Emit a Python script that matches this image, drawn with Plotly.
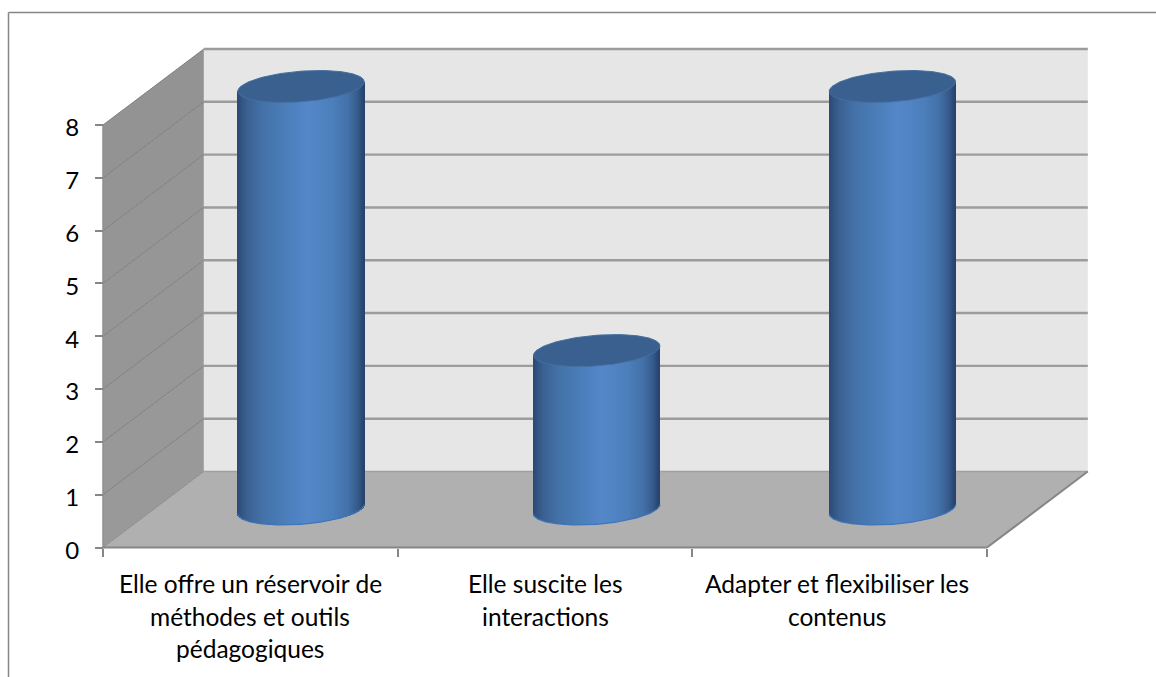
import numpy as np
import plotly.graph_objects as go

# ---- data ----
categories = ["Elle offre un réservoir de méthodes et outils pédagogiques",
              "Elle suscite les interactions",
              "Adapter et flexibiliser les contenus"]
label_lines = [["Elle offre un réservoir de", "méthodes et outils", "pédagogiques"],
               ["Elle suscite les", "interactions"],
               ["Adapter et flexibiliser les", "contenus"]]
values = [8, 3, 8]
y_ticks = [0, 1, 2, 3, 4, 5, 6, 7, 8]

# ---- geometry (pixels of the 1156x677 page) ----
W, H = 1156, 677
X0_PX, X3_PX = 103.0, 987.0      # x axis ends
Y0_PX, Y8_PX = 547.5, 125.0      # y axis 0 and 8
PX_X = (X3_PX - X0_PX) / len(categories)
PX_Y = (Y0_PX - Y8_PX) / max(y_ticks)
x_left = -0.5 - X0_PX / PX_X
x_right = x_left + W / PX_X
y_bottom = -(H - Y0_PX) / PX_Y
y_top = y_bottom + H / PX_Y
DX = 100.8 / PX_X                # depth offset of the back wall, x
DY = 76.0 / PX_Y                 # depth offset of the back wall, y
XL, XR = -0.5, len(categories) - 0.5
YMAX = max(y_ticks)

RAD_X = 63.2 / PX_X              # cylinder half width
RAD_Y = 15.3 / PX_Y              # cylinder half height of the ellipse
TILT = 4.7 / PX_Y                # ellipse tilt
BASE = 38.5 / PX_Y               # cylinder base centre above y=0
SHIFT = DX / 2 + 0.3 / PX_X      # cylinder centre shift towards the back
PITCH = 295.7 / PX_X             # spacing of the cylinders

GRID_BACK = "#9c9c9c"
GRID_SIDE = "#7f7f7f"
AXIS = "#868686"

fig = go.Figure()
shapes = []


def poly(xs, ys, color):
    path = "M " + " L ".join(f"{a},{b}" for a, b in zip(xs, ys)) + " Z"
    shapes.append(dict(type="path", path=path, xref="x", yref="y", fillcolor=color,
                       line=dict(width=0), layer="below"))


def seg(xs, ys, color, width):
    shapes.append(dict(type="line", x0=xs[0], x1=xs[1], y0=ys[0], y1=ys[1], xref="x", yref="y",
                       line=dict(color=color, width=width), layer="below"))


def line(xs, ys, color, width):
    fig.add_trace(go.Scatter(x=xs, y=ys, mode="lines", line=dict(color=color, width=width),
                             hoverinfo="skip", showlegend=False))


# back wall
poly([XL + DX, XR + DX, XR + DX, XL + DX], [DY, DY, YMAX + DY, YMAX + DY], "#e6e6e6")
# side wall, one band per unit
side_colors = ["#999999", "#989898", "#979797", "#969696", "#969696", "#959595", "#949494", "#939393"]
for i, c in enumerate(side_colors):
    poly([XL, XL + DX, XL + DX, XL], [i, i + DY, i + 1 + DY, i + 1], c)
# floor
poly([XL, XR, XR + DX, XL + DX], [0, 0, DY, DY], "#b0b0b0")

# grid lines
for t in y_ticks[1:]:
    seg([XL + DX, XR + DX], [t + DY, t + DY], GRID_BACK, 2.4)
    seg([XL, XL + DX], [t, t + DY], GRID_SIDE, 1)
seg([XL + DX, XR + DX], [DY, DY], "#a0a0a0", 1.5)
seg([XL, XL + DX], [0, DY], "#8c8c8c", 1)
seg([XL, XL], [0, YMAX], "#8f8f8f", 1.5)
seg([XL, XR], [0, 0], AXIS, 2)
seg([XR, XR + DX], [0, DY], AXIS, 2)

# frame
shapes.append(dict(type="line", xref="paper", yref="paper", x0=8.5 / W, x1=1, y0=1 - 12.5 / H, y1=1 - 12.5 / H,
                   line=dict(color="#868686", width=1.5), layer="below"))
shapes.append(dict(type="line", xref="paper", yref="paper", x0=8.5 / W, x1=8.5 / W, y0=0, y1=1 - 12.5 / H,
                   line=dict(color="#868686", width=1.5), layer="below"))

# cylinders
stops_u = [-1.0, -0.85, -0.6, -0.2, 0.1, 0.5, 0.75, 0.9, 1.0]
stops_c = np.array([[0x2a, 0x4a, 0x75], [0x3a, 0x60, 0x90], [0x44, 0x72, 0xa8], [0x4c, 0x7f, 0xbc],
                    [0x54, 0x88, 0xca], [0x4c, 0x7f, 0xbc], [0x44, 0x71, 0xa9], [0x36, 0x5b, 0x8c],
                    [0x25, 0x43, 0x6b]], dtype=float)
n_strips = 126
u_edges = np.linspace(-1, 1, n_strips + 1)
u_mid = (u_edges[:-1] + u_edges[1:]) / 2
rgb = np.stack([np.interp(u_mid, stops_u, stops_c[:, k]) for k in range(3)], axis=1)
strip_colors = [f"rgb({int(r)},{int(g)},{int(b)})" for r, g, b in rgb]
t = np.linspace(0, 2 * np.pi, 181)

for idx, v in enumerate(values):
    cx = idx * PITCH + SHIFT
    low = BASE - RAD_Y * np.sqrt(1 - u_mid ** 2) + TILT * u_mid
    high = BASE + v + TILT * u_mid
    fig.add_trace(go.Bar(x=(cx + u_mid * RAD_X).tolist(), y=(high - low).tolist(), base=low.tolist(),
                         width=2 * RAD_X / n_strips * 1.02,
                         marker=dict(color=strip_colors, line=dict(width=0)),
                         hoverinfo="skip", showlegend=False))
    arc = np.linspace(np.pi, 2 * np.pi, 91)
    line(cx + RAD_X * np.cos(arc), BASE + RAD_Y * np.sin(arc) + TILT * np.cos(arc), "#3f75b8", 1.2)
    fig.add_trace(go.Scatter(x=cx + RAD_X * np.cos(t),
                             y=BASE + v + RAD_Y * np.sin(t) + TILT * np.cos(t),
                             mode="lines", fill="toself", fillcolor="#3a6090",
                             line=dict(color="#44709f", width=1),
                             hoverinfo="skip", showlegend=False))

# category labels, one text per printed line
annotations = []
for idx, lines in enumerate(label_lines):
    for k, txt in enumerate(lines):
        annotations.append(dict(x=idx - (0.008 if idx == 2 else 0), y=1 - (583.5 + 32.5 * k) / H,
                                xref="x", yref="paper",
                                text=txt, showarrow=False, xanchor="center", yanchor="middle",
                                font=dict(family="Lato", size=24.5, color="#000000")))

fig.update_layout(
    width=W, height=H, margin=dict(l=0, r=0, t=0, b=0), autosize=False,
    paper_bgcolor="white", plot_bgcolor="white", showlegend=False, barmode="overlay",
    bargap=0, annotations=annotations, shapes=shapes,
    xaxis=dict(range=[x_left, x_right], domain=[0, 1], showgrid=False, zeroline=False, showline=False,
               anchor="free", position=(H - Y0_PX) / H, ticks="", showticklabels=False,
               tickvals=[0, 1, 2], ticktext=categories,
               minor=dict(tickmode="array", tickvals=[-0.5, 0.5, 1.5, 2.5], ticks="outside",
                          ticklen=8, tickwidth=2, tickcolor=AXIS, showgrid=False)),
    yaxis=dict(range=[y_bottom, y_top], domain=[0, 1], showgrid=False, zeroline=False, showline=False,
               anchor="free", position=X0_PX / W, side="left", tickmode="array", tickvals=y_ticks,
               ticks="outside", ticklen=8, tickwidth=2, tickcolor=AXIS,
               ticklabelstandoff=11, ticklabelshift=3,
               tickfont=dict(family="Lato", size=24, color="#000000")),
)

fig.write_html("out.html", config=dict(displayModeBar=False, responsive=False),
               post_script="document.body.style.margin='0';document.documentElement.style.overflow='hidden';")
